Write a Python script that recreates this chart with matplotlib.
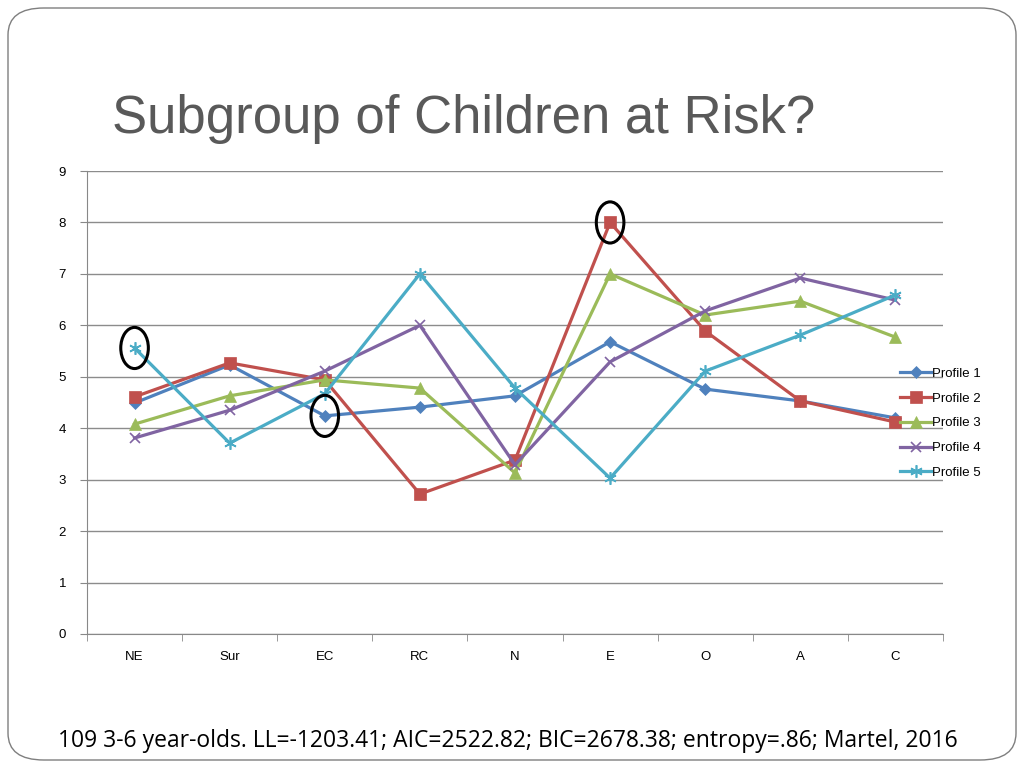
import matplotlib.pyplot as plt
from matplotlib.patches import FancyBboxPatch, Ellipse

categories = ['NE', 'Sur', 'EC', 'RC', 'N', 'E', 'O', 'A', 'C']
profile_1 = [4.49, 5.23, 4.24, 4.41, 4.63, 5.68, 4.76, 4.53, 4.20]
profile_2 = [4.61, 5.27, 4.94, 2.72, 3.38, 8.00, 5.89, 4.53, 4.12]
profile_3 = [4.08, 4.63, 4.94, 4.78, 3.13, 7.00, 6.20, 6.47, 5.77]
profile_4 = [3.81, 4.35, 5.11, 6.00, 3.29, 5.29, 6.28, 6.92, 6.49]
profile_5 = [5.56, 3.71, 4.67, 7.00, 4.78, 3.03, 5.11, 5.81, 6.59]
series_names = ['Profile 1', 'Profile 2', 'Profile 3', 'Profile 4', 'Profile 5']
# highlighted points: (category index, value)
circled = [(0, 5.56), (2, 4.24), (5, 8.00)]

colors = ['#4F81BD', '#C0504D', '#9BBB59', '#8064A2', '#4BACC6']
markers = ['D', 's', '^', 'x', (6, 2, 0)]
msizes = [6, 8, 8, 7, 9]

fig = plt.figure(figsize=(10.24, 7.68), dpi=100)
plt.rcParams['font.family'] = ['Liberation Sans', 'DejaVu Sans']

# slide frame
frame = FancyBboxPatch((8 / 1024, 8 / 768), 1008 / 1024, 752 / 768,
                       boxstyle='round,pad=0,rounding_size=0.035',
                       transform=fig.transFigure, fill=False,
                       edgecolor='#7f7f7f', linewidth=1.0)
fig.patches.append(frame)

fig.text(112 / 1024, 1 - 119 / 768, 'Subgroup of Children at Risk?',
         fontsize=38, color='#595959', va='center', ha='left')
fig.text(508 / 1024, 1 - 741 / 768,
         '109 3-6 year-olds. LL=-1203.41; AIC=2522.82; BIC=2678.38; entropy=.86; Martel, 2016',
         fontsize=16.5, color='black', va='center', ha='center',
         family='Open Sans')

ax = fig.add_axes([87 / 1024, 1 - 634 / 768, 856 / 1024, 463 / 768])
xs = [i + 0.5 for i in range(len(categories))]
data = [profile_1, profile_2, profile_3, profile_4, profile_5]
for vals, name, c, m, ms in zip(data, series_names, colors, markers, msizes):
    ax.plot(xs, vals, color=c, lw=2.3, marker=m, markersize=ms,
            markeredgewidth=1.2 if m in ('x', (6, 2, 0)) else 0.5,
            markeredgecolor=c, label=name)

for ci, v in circled:
    ax.add_patch(Ellipse((ci + 0.5, v), 0.29, 0.8, fill=False,
                         edgecolor='black', lw=2.2, zorder=5))

ax.set_xlim(0, 9)
ax.set_ylim(0, 9)
ax.set_yticks(range(10))
ax.set_xticks(xs)
ax.set_xticklabels(categories)
ax.set_xticks(range(10), minor=True)
ax.tick_params(axis='x', which='major', length=0, pad=12, labelsize=9.5)
ax.tick_params(axis='x', which='minor', length=5, color='#888888', direction='out')
ax.tick_params(axis='y', length=5, color='#888888', pad=10, labelsize=9.5)
ax.yaxis.grid(True, color='#8c8c8c', lw=1.0)
ax.set_axisbelow(True)
for s in ['top', 'right']:
    ax.spines[s].set_visible(False)
for s in ['left', 'bottom']:
    ax.spines[s].set_color('#888888')

ax.legend(loc='center left', bbox_to_anchor=(0.944, 0.455), frameon=False,
          fontsize=9.5, handlelength=2.3, handletextpad=0.1, labelspacing=0.95,
          borderaxespad=0)

fig.savefig('out.png', dpi=100)
